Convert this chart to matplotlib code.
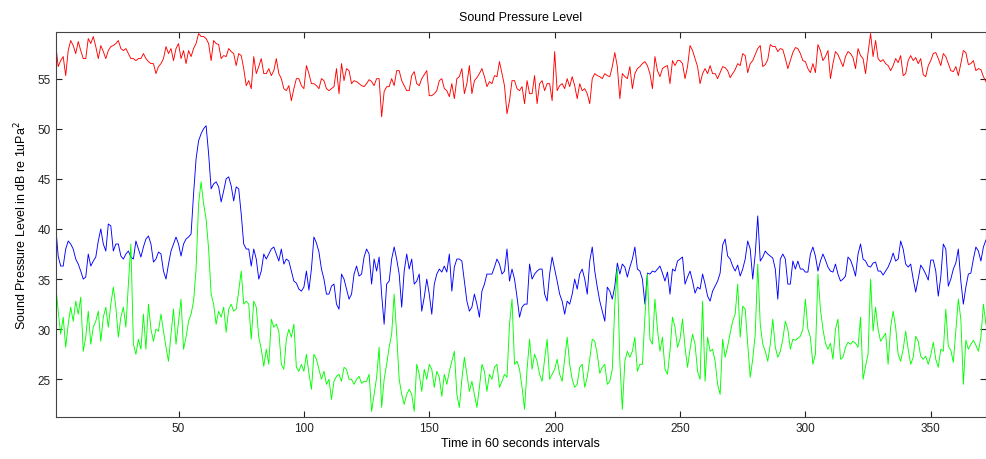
import matplotlib
matplotlib.use('Agg')
import matplotlib.pyplot as plt
import numpy as np

plt.rcParams['font.family'] = ['Liberation Sans', 'DejaVu Sans']

# sound pressure level per 60 s interval (dB re 1uPa^2)
spl_red = [
    58.5, 56.2, 56.8, 57.2, 55.3, 57.8, 58.8, 58.3, 57.5, 58.7, 57.8, 57.0, 57.0, 59.0, 58.5, 59.2,
    58.2, 57.0, 58.3, 57.7, 57.0, 57.8, 58.2, 58.3, 58.5, 58.8, 58.0, 57.8, 58.0, 57.5, 57.0, 57.0,
    56.8, 57.0, 57.0, 57.5, 57.0, 56.7, 56.5, 56.5, 55.5, 56.2, 56.5, 57.0, 58.2, 57.5, 58.0, 56.8,
    58.0, 58.5, 57.0, 57.8, 56.5, 57.8, 57.2, 58.0, 58.5, 59.5, 59.2, 59.2, 59.0, 58.5, 56.8,
    58.8, 58.5, 58.4, 57.0, 57.3, 57.2, 58.0, 57.7, 57.5, 56.3, 57.5, 57.3, 56.0, 54.3, 54.8, 54.0,
    57.2, 55.5, 56.2, 57.0, 55.5, 55.5, 56.0, 55.3, 55.8, 57.0, 55.5, 55.0, 54.0, 53.8, 54.3,
    52.8, 54.0, 55.0, 55.0, 54.3, 54.0, 56.3, 55.5, 54.5, 54.5, 54.3, 54.0, 55.0, 54.8, 54.0, 53.8,
    54.0, 54.2, 56.0, 53.5, 56.5, 54.8, 56.0, 55.8, 54.5, 54.8, 54.7, 54.5, 54.3, 54.2, 54.5,
    54.9, 54.7, 54.3, 55.0, 55.0, 51.2, 53.7, 54.2, 54.2, 55.0, 54.3, 55.8, 55.8, 54.8, 54.3, 53.8,
    53.8, 55.3, 55.7, 54.5, 54.3, 55.0, 55.4, 55.8, 53.3, 53.3, 53.5, 53.8, 54.8, 55.0, 54.0,
    53.8, 53.2, 54.5, 53.0, 55.0, 55.2, 56.0, 53.5, 54.5, 56.3, 53.5, 54.8, 55.1, 55.5, 56.0, 55.2,
    54.2, 54.7, 54.5, 55.3, 55.2, 56.7, 55.5, 54.3, 51.5, 52.8, 54.8, 54.8, 54.0, 53.8, 54.2, 52.5,
    54.8, 53.5, 53.5, 55.3, 52.5, 54.5, 54.8, 53.8, 54.5, 54.5, 52.8, 57.7, 53.8, 54.3, 54.5, 54.0,
    55.0, 54.2, 55.2, 54.3, 53.0, 54.5, 53.8, 54.0, 53.5, 52.5, 55.0, 55.5, 55.3, 55.2, 55.0,
    55.5, 55.3, 55.2, 56.2, 57.6, 56.2, 53.0, 55.5, 55.2, 55.0, 56.2, 54.0, 55.5, 56.0, 56.2, 56.5,
    56.7, 56.3, 55.5, 54.0, 57.2, 55.8, 55.2, 56.0, 56.2, 56.3, 54.5, 56.8, 56.3, 56.8, 56.8,
    56.5, 55.0, 56.2, 58.3, 57.8, 57.0, 56.2, 54.5, 55.5, 56.0, 55.5, 56.3, 55.5, 55.5, 55.0, 55.6,
    56.2, 56.1, 55.8, 55.1, 55.5, 55.9, 56.5, 56.3, 57.5, 57.3, 55.6, 56.5, 56.8, 57.4, 58.0,
    58.3, 56.2, 56.4, 56.9, 58.4, 58.2, 58.2, 57.7, 58.0, 57.9, 57.0, 56.0, 56.8, 57.6, 58.1, 58.0,
    57.5, 56.8, 56.7, 56.0, 55.6, 56.5, 55.6, 58.4, 57.8, 56.8, 57.2, 57.8, 55.0, 56.5, 57.7,
    57.4, 56.8, 56.2, 57.2, 57.7, 57.5, 57.1, 56.0, 58.0, 57.3, 57.0, 55.5, 57.6, 59.5, 57.2, 58.8,
    57.0, 56.7, 56.9, 56.5, 56.3, 55.8, 56.3, 57.0, 56.6, 57.3, 55.3, 55.5, 56.8, 57.3, 56.8,
    57.1, 56.5, 57.0, 55.4, 55.2, 56.3, 56.8, 57.5, 57.6, 57.0, 56.3, 57.5, 57.2, 56.5, 55.8,
    55.7, 56.2, 55.3, 56.5, 57.8, 57.6, 56.4, 56.5, 56.8, 55.8, 56.0, 55.9, 55.2, 54.7,
]

spl_blue = [
    40.3, 37.3, 36.3, 36.3, 38.0, 38.8, 38.5, 38.0, 37.0, 36.5, 35.8, 35.0, 35.2, 37.5, 36.3, 36.8,
    37.2, 38.8, 40.0, 38.5, 37.8, 40.5, 40.3, 37.8, 38.5, 38.5, 37.3, 37.0, 37.5, 37.8, 37.2, 37.0,
    38.8, 38.0, 37.2, 38.2, 39.0, 39.3, 38.5, 36.7, 37.0, 37.7, 37.5, 35.8, 35.0, 36.5, 37.8, 38.5,
    39.2, 38.5, 37.3, 38.5, 39.0, 39.2, 39.5, 43.5, 47.0, 48.8, 49.5, 50.0, 50.3, 47.5, 44.0,
    44.5, 44.7, 44.2, 42.7, 43.8, 45.0, 45.2, 44.3, 42.8, 44.2, 44.0, 41.5, 38.5, 38.0, 38.0, 36.3,
    38.0, 37.0, 35.0, 35.8, 37.5, 37.0, 37.5, 38.0, 38.2, 37.5, 36.8, 38.0, 36.5, 37.0, 36.8,
    35.8, 34.8, 34.6, 34.0, 33.8, 34.2, 35.8, 33.9, 36.0, 39.2, 38.6, 37.7, 36.0, 35.0, 33.5, 33.5,
    34.3, 34.5, 32.5, 32.0, 35.5, 35.0, 34.0, 33.0, 33.5, 35.5, 36.3, 35.3, 35.5, 37.2, 38.0,
    37.5, 34.5, 37.0, 35.8, 37.2, 33.5, 30.5, 34.5, 34.8, 37.0, 38.2, 37.0, 35.5, 32.2, 35.8, 37.5,
    36.0, 37.0, 34.5, 34.8, 35.5, 31.8, 33.2, 35.0, 33.5, 31.5, 34.5, 35.5, 36.0, 35.7, 36.3,
    35.7, 37.5, 33.8, 36.2, 37.0, 37.0, 36.8, 34.8, 32.8, 31.8, 32.2, 33.5, 32.5, 31.2, 33.8, 34.5,
    35.5, 35.5, 35.5, 36.2, 37.0, 36.5, 35.5, 35.8, 38.0, 34.8, 36.0, 35.0, 33.2, 31.2, 32.2, 32.5,
    32.5, 36.5, 35.0, 35.5, 35.8, 36.0, 36.0, 33.5, 32.8, 35.5, 37.2, 36.0, 34.8, 33.5, 32.8, 31.5,
    32.8, 32.5, 33.5, 35.0, 34.0, 35.5, 36.0, 35.0, 33.5, 36.8, 38.2, 35.8, 34.2, 32.8, 31.8,
    30.8, 34.2, 33.8, 33.0, 34.3, 36.6, 35.5, 36.5, 36.2, 35.2, 36.2, 37.0, 38.2, 36.0, 35.8, 35.0,
    32.5, 35.6, 35.5, 35.8, 35.7, 36.0, 36.3, 35.6, 34.8, 35.7, 33.5, 36.0, 35.8, 36.8, 37.0,
    37.2, 34.5, 35.2, 35.8, 34.8, 33.6, 34.2, 34.0, 35.5, 34.5, 33.3, 32.8, 33.8, 34.3, 34.8, 35.6,
    38.4, 39.0, 37.3, 37.0, 36.3, 35.8, 36.4, 35.3, 36.0, 37.0, 38.8, 38.0, 35.0, 37.5, 41.3,
    36.8, 37.2, 37.8, 37.5, 37.3, 37.1, 36.0, 33.0, 37.0, 37.5, 37.0, 34.5, 34.5, 36.8, 36.0, 36.8,
    36.0, 36.0, 35.7, 35.7, 37.5, 38.2, 37.3, 35.8, 36.8, 37.5, 36.9, 36.2, 35.8, 35.7, 36.5,
    35.5, 34.8, 35.0, 35.3, 37.2, 36.9, 36.2, 35.3, 37.5, 38.5, 37.0, 36.8, 36.3, 36.2, 36.6, 36.7,
    35.8, 35.8, 35.4, 35.8, 36.2, 36.8, 37.6, 36.8, 37.0, 38.8, 38.0, 36.5, 36.2, 36.5, 35.0,
    33.7, 35.0, 36.4, 36.0, 35.5, 34.9, 36.9, 36.9, 35.8, 33.3, 35.2, 38.5, 38.0, 34.3, 35.0,
    36.0, 36.6, 38.0, 34.8, 32.5, 34.2, 35.5, 35.6, 37.0, 38.2, 37.8, 36.8, 38.2, 38.9,
]

spl_green = [
    34.5, 31.8, 29.5, 31.2, 28.2, 30.5, 32.2, 30.8, 32.8, 31.5, 33.2, 27.8, 29.2, 31.8, 28.5, 30.2,
    30.8, 31.8, 28.8, 31.2, 32.2, 30.2, 32.5, 34.2, 32.2, 29.2, 31.2, 32.2, 30.2, 34.5, 38.5, 28.5,
    27.5, 29.0, 28.0, 31.5, 28.0, 32.5, 30.0, 28.8, 30.0, 29.8, 31.5, 29.8, 28.2, 26.8, 29.5, 32.0,
    28.5, 30.8, 33.0, 28.0, 29.2, 30.8, 31.5, 32.8, 36.0, 42.5, 44.7, 42.5, 41.0, 38.0, 33.5,
    32.5, 30.5, 31.8, 31.2, 32.2, 29.7, 32.0, 32.5, 31.8, 32.0, 33.8, 35.8, 32.5, 32.8, 32.5, 29.0,
    32.8, 32.2, 29.2, 28.0, 26.3, 28.0, 26.5, 31.0, 30.2, 30.5, 29.8, 26.5, 26.0, 29.0, 30.0,
    29.2, 30.5, 26.2, 25.8, 26.5, 25.8, 27.5, 25.6, 24.0, 27.5, 27.0, 26.0, 25.0, 25.8, 24.5, 25.0,
    23.0, 24.8, 25.3, 25.5, 24.8, 26.2, 26.0, 25.0, 25.0, 24.5, 25.0, 25.3, 24.6, 24.8, 24.8,
    25.5, 21.8, 23.5, 25.2, 28.2, 22.2, 25.0, 26.5, 28.2, 29.5, 33.5, 29.5, 25.0, 23.5, 22.5, 23.5,
    24.0, 23.5, 21.8, 26.5, 25.5, 23.8, 26.0, 25.0, 26.5, 26.0, 24.2, 25.8, 25.2, 23.3, 25.5,
    24.5, 25.8, 26.8, 27.8, 23.5, 22.2, 25.0, 27.2, 25.5, 23.8, 24.8, 23.5, 22.2, 24.2, 26.5, 25.8,
    23.8, 25.5, 25.0, 26.2, 26.5, 24.2, 24.8, 25.5, 25.2, 30.5, 33.0, 26.5, 26.8, 26.0, 24.2, 22.0,
    26.0, 29.0, 26.0, 27.5, 26.8, 25.5, 24.8, 27.0, 29.0, 25.0, 25.5, 26.0, 27.0, 25.5, 24.8, 27.0,
    29.2, 26.5, 25.0, 24.2, 24.5, 26.2, 26.5, 24.2, 25.2, 27.0, 29.0, 28.8, 27.5, 25.6, 26.2,
    26.5, 24.5, 24.8, 26.0, 32.5, 36.0, 26.8, 22.0, 26.8, 27.8, 27.2, 27.8, 29.2, 25.8, 26.5, 26.5,
    31.2, 35.5, 29.0, 28.5, 33.0, 30.0, 27.8, 29.2, 26.0, 25.5, 27.8, 31.2, 30.2, 28.2, 29.0,
    31.0, 28.2, 26.2, 28.0, 29.5, 28.5, 25.8, 25.0, 32.8, 24.8, 29.2, 27.8, 28.0, 26.8, 24.5, 23.5,
    29.0, 27.2, 28.3, 29.6, 30.8, 31.5, 34.5, 29.2, 32.3, 32.0, 28.5, 25.2, 27.0, 29.5, 36.5,
    30.5, 28.5, 27.8, 26.8, 28.5, 31.0, 28.2, 27.2, 27.8, 29.0, 30.8, 30.0, 28.0, 29.0, 28.9, 29.1,
    29.3, 30.0, 33.0, 30.0, 29.2, 26.5, 27.5, 35.5, 32.0, 30.0, 28.6, 28.0, 28.6, 27.0, 30.0,
    31.0, 27.0, 27.2, 28.2, 28.7, 28.5, 28.8, 28.6, 28.2, 31.2, 25.0, 26.3, 27.5, 35.0, 29.8, 32.2,
    30.0, 28.8, 29.2, 29.6, 26.5, 30.2, 31.8, 30.2, 27.5, 26.8, 28.0, 29.8, 28.0, 26.5, 27.2,
    29.3, 28.8, 27.3, 27.0, 27.3, 26.5, 27.4, 28.7, 27.0, 26.2, 28.0, 27.8, 32.0, 28.3, 27.9,
    26.7, 29.8, 33.0, 31.0, 24.5, 28.9, 28.0, 28.5, 28.9, 28.4, 27.8, 29.2, 32.5, 30.5,
]

x_ticks = [50, 100, 150, 200, 250, 300, 350]
y_ticks = [25, 30, 35, 40, 45, 50, 55]

t = np.arange(1, len(spl_red) + 1)

fig = plt.figure(figsize=(9.87, 4.6), dpi=100)
ax = fig.add_axes([0.0564, 0.0913, 0.9425, 0.838])

ax.plot(t, spl_red, color='#ff0000', linewidth=0.65)
ax.plot(t, spl_blue, color='#0000ff', linewidth=0.65)
ax.plot(t, spl_green, color='#00ff00', linewidth=0.65)

ax.set_xlim(1, len(spl_red))
ax.set_ylim(21.24, 59.7)
ax.set_xticks(x_ticks)
ax.set_yticks(y_ticks)
ax.tick_params(direction='in', length=4, width=0.8, top=True, right=True,
               labelsize=8.5, colors='#222222')
for s in ax.spines.values():
    s.set_color('#444444')
    s.set_linewidth(0.8)

ax.set_title('Sound Pressure Level', fontsize=9, pad=8)
ax.set_xlabel('Time in 60 seconds intervals', fontsize=9, labelpad=2)
ax.set_ylabel('Sound Pressure Level in dB re 1uPa$^2$', fontsize=9, labelpad=6)

fig.savefig('out.png', dpi=100)
